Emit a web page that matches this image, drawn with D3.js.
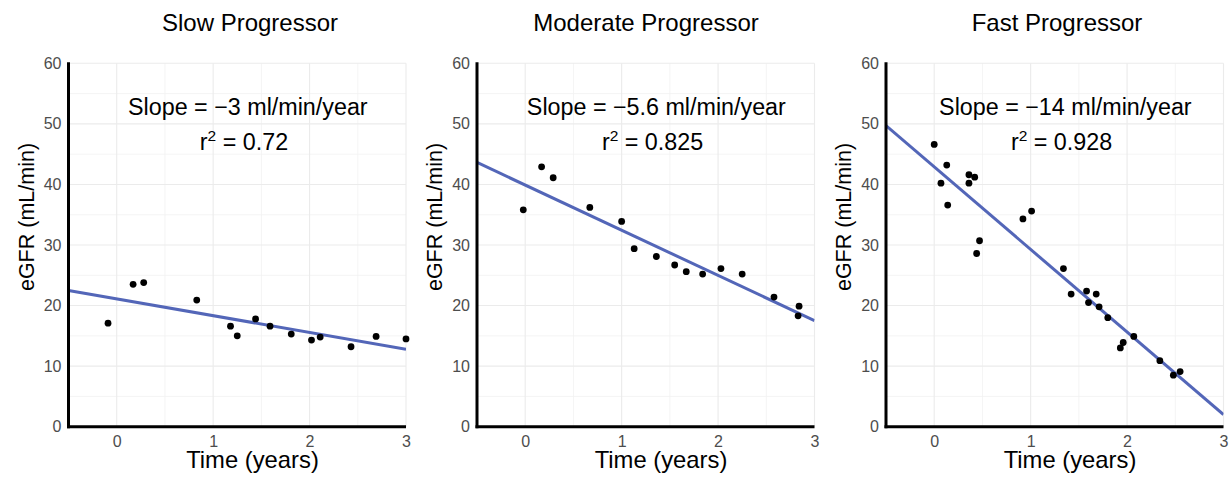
<!DOCTYPE html>
<html>
<head>
<meta charset="utf-8">
<script src="https://cdn.jsdelivr.net/npm/d3@7"></script>
<style>
  body { margin: 0; background: #fff; }
  svg text { font-family: "Liberation Sans", Arial, sans-serif; }
</style>
</head>
<body>
<svg id="chart"></svg>
<script>
// panel titles and annotations
const titles = ["Slow Progressor", "Moderate Progressor", "Fast Progressor"]
const slopeLabels = ["\u22123", "\u22125.6", "\u221214"]
const r2Labels = ["0.72", "0.825", "0.928"]

// fitted lines (value at time 0, change per year)
const intercepts = [21.1, 39.9, 42.9]
const slopes = [-2.77, -7.46, -13.63]

// observations per panel
const slowTime = [-0.09, 0.17, 0.28, 0.83, 1.18, 1.25, 1.44, 1.59, 1.81, 2.02, 2.11, 2.43, 2.69, 3.0]
const slowEgfr = [17.1, 23.5, 23.8, 20.9, 16.6, 15.0, 17.8, 16.6, 15.3, 14.3, 14.8, 13.2, 14.9, 14.5]

const modTime = [-0.02, 0.17, 0.29, 0.67, 1.0, 1.13, 1.36, 1.55, 1.67, 1.84, 2.03, 2.25, 2.58, 2.84, 2.83]
const modEgfr = [35.8, 42.9, 41.1, 36.2, 33.9, 29.4, 28.1, 26.7, 25.6, 25.2, 26.1, 25.2, 21.4, 19.9, 18.3]

const fastTime = [0.0, 0.07, 0.13, 0.14, 0.36, 0.42, 0.36, 0.47, 0.44, 0.92, 1.01, 1.34, 1.42, 1.58, 1.6, 1.68, 1.71, 1.8, 1.93, 1.96, 2.07, 2.34, 2.48, 2.55]
const fastEgfr = [46.6, 40.2, 43.2, 36.6, 41.6, 41.2, 40.2, 30.7, 28.6, 34.3, 35.6, 26.1, 21.9, 22.4, 20.5, 21.9, 19.8, 18.0, 13.0, 13.9, 14.9, 10.9, 8.5, 9.1]

const times = [slowTime, modTime, fastTime]
const egfrs = [slowEgfr, modEgfr, fastEgfr]

const xTicks = [0, 1, 2, 3]
const xMinor = [0.5, 1.5, 2.5]
const yTicks = [0, 10, 20, 30, 40, 50, 60]
const yMinor = [5, 15, 25, 35, 45, 55]

let width = 1231
let height = 478
let panelLeft = [68.5, 477, 886]
let panelWidth = 337.5
let plotTop = 63.3
let plotBottom = 426.7
let titleX = [250, 646, 1057]
let lineColor = "#5366b8"

let svg = d3.select("#chart")
    .attr("width", width)
    .attr("height", height)

const yScale = d3.scaleLinear()
    .domain([0, 60])
    .range([plotBottom, plotTop])

const drawPanel = (i) => {
    let left = panelLeft[i]
    let xScale = d3.scaleLinear()
        .domain([-0.5, 3])
        .range([left, left + panelWidth])

    let g = svg.append("g")

    // grid
    g.selectAll(".gx-minor").data(xMinor).enter().append("line")
        .attr("x1", d => xScale(d)).attr("x2", d => xScale(d))
        .attr("y1", plotTop).attr("y2", plotBottom)
        .attr("stroke", "#f1f1f1").attr("stroke-width", 0.8)
    g.selectAll(".gy-minor").data(yMinor).enter().append("line")
        .attr("x1", left).attr("x2", left + panelWidth)
        .attr("y1", d => yScale(d)).attr("y2", d => yScale(d))
        .attr("stroke", "#f1f1f1").attr("stroke-width", 0.8)
    g.selectAll(".gx").data(xTicks).enter().append("line")
        .attr("x1", d => xScale(d)).attr("x2", d => xScale(d))
        .attr("y1", plotTop).attr("y2", plotBottom)
        .attr("stroke", "#ebebeb").attr("stroke-width", 1.1)
    g.selectAll(".gy").data(yTicks).enter().append("line")
        .attr("x1", left).attr("x2", left + panelWidth)
        .attr("y1", d => yScale(d)).attr("y2", d => yScale(d))
        .attr("stroke", "#ebebeb").attr("stroke-width", 1.1)

    // axes (labels only, lines drawn thick below)
    let xAxis = d3.axisBottom(xScale).tickValues(xTicks).tickFormat(d3.format("d")).tickSize(0).tickPadding(9)
    let yAxis = d3.axisLeft(yScale).tickValues(yTicks).tickSize(0).tickPadding(7)

    let gx = g.append("g")
        .attr("transform", "translate(0," + plotBottom + ")")
        .call(xAxis)
    let gy = g.append("g")
        .attr("transform", "translate(" + left + ",0)")
        .call(yAxis)
    ;[gx, gy].forEach(a => {
        a.select(".domain").remove()
        a.selectAll("text")
            .attr("fill", "#4d4d4d")
            .style("font-size", "16px")
            .style("font-family", "'Liberation Sans', Arial, sans-serif")
    })

    // fitted line
    let clipId = "clip" + i
    svg.append("clipPath").attr("id", clipId)
        .append("rect")
        .attr("x", left).attr("y", plotTop)
        .attr("width", panelWidth).attr("height", plotBottom - plotTop)

    g.append("line")
        .attr("clip-path", "url(#" + clipId + ")")
        .attr("x1", xScale(-0.5))
        .attr("y1", yScale(intercepts[i] + slopes[i] * -0.5))
        .attr("x2", xScale(3))
        .attr("y2", yScale(intercepts[i] + slopes[i] * 3))
        .attr("stroke", lineColor)
        .attr("stroke-width", 3)

    // points
    g.selectAll("circle")
        .data(times[i].map((t, k) => ({ t: t, v: egfrs[i][k] })))
        .enter()
        .append("circle")
        .attr("cx", d => xScale(d.t))
        .attr("cy", d => yScale(d.v))
        .attr("r", 3.4)
        .attr("fill", "#000")

    // axis lines
    g.append("line")
        .attr("x1", left).attr("x2", left)
        .attr("y1", plotTop - 1).attr("y2", plotBottom + 1.5)
        .attr("stroke", "#000").attr("stroke-width", 3)
    g.append("line")
        .attr("x1", left - 1.5).attr("x2", left + panelWidth)
        .attr("y1", plotBottom).attr("y2", plotBottom)
        .attr("stroke", "#000").attr("stroke-width", 3)

    // annotation
    g.append("text")
        .attr("x", xScale(1.36))
        .attr("y", yScale(51.4))
        .attr("text-anchor", "middle")
        .style("font-size", "23.3px")
        .text("Slope = " + slopeLabels[i] + " ml/min/year")

    let r2 = g.append("text")
        .attr("x", xScale(1.32))
        .attr("y", yScale(45.7))
        .attr("text-anchor", "middle")
        .style("font-size", "23.3px")
    r2.append("tspan").text("r")
    r2.append("tspan").attr("dy", -9).style("font-size", "15.5px").text("2")
    r2.append("tspan").attr("dy", 9).text(" = " + r2Labels[i])

    // titles
    svg.append("text")
        .attr("x", titleX[i])
        .attr("y", 31)
        .attr("text-anchor", "middle")
        .style("font-size", "24px")
        .text(titles[i])

    svg.append("text")
        .attr("x", left + 184)
        .attr("y", 468)
        .attr("text-anchor", "middle")
        .style("font-size", "23.8px")
        .text("Time (years)")

    svg.append("text")
        .attr("transform", "translate(" + (left - 35) + ",217) rotate(-90)")
        .attr("text-anchor", "middle")
        .style("font-size", "21.5px")
        .text("eGFR (mL/min)")
}

titles.forEach((t, i) => drawPanel(i))
</script>
</body>
</html>
